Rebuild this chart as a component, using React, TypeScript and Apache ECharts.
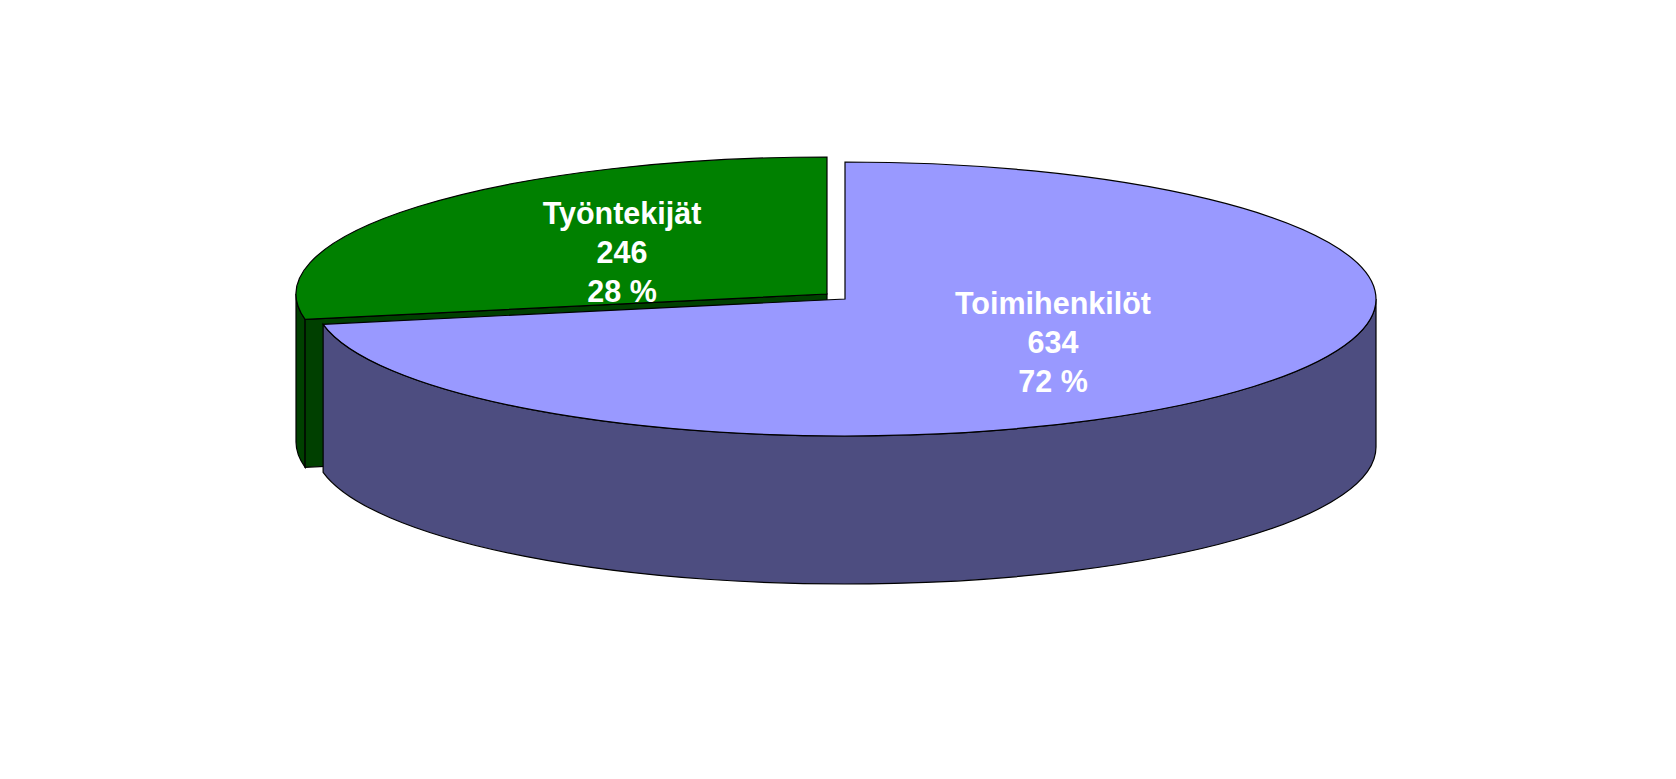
import React, { useEffect, useRef } from "react";
import * as echarts from "echarts";

// Drawing order: the back slice first, so the front slice covers it.
const categories = ["Työntekijät", "Toimihenkilöt"];
const values = [246, 634];
const topColors = ["#008000", "#9999FF"];
const sideColors = ["#004000", "#4D4D80"];

const RX = 531;
const RY = 137;
const DEPTH = 148;
const CENTERS = [
  [827, 294],
  [845, 299],
];
const LABEL_POS = [
  [622, 252],
  [1053, 342],
];
const LABEL_FONT = 30.5;
const LABEL_LINE = 39;

const total = values.reduce((a, b) => a + b, 0);
const pt = (c: number[], deg: number, dy = 0) => {
  const r = (deg * Math.PI) / 180;
  return [c[0] + RX * Math.sin(r), c[1] - RY * Math.cos(r) + dy];
};
const arcTo = (p: number[], sweepCw: boolean, large: boolean) =>
  `A${RX} ${RY} 0 ${large ? 1 : 0} ${sweepCw ? 1 : 0} ${p[0]} ${p[1]}`;

// The slices run clockwise from 12 o'clock; the first one in the list ends there.
const sliceAngles = (index: number) => {
  const share = (v: number) => (v / total) * 360;
  if (index === 0) return [360 - share(values[0]), 360];
  return [0, share(values[1])];
};

const renderItem = (params: any, api: any) => {
  const i = params.dataIndex;
  const value = api.value(0);
  const c = CENTERS[i];
  const [a0, a1] = sliceAngles(i);
  const stroke = { stroke: "#000000", lineWidth: 1.2 };
  const children: any[] = [];

  // Outer wall: the part of the slice on the front half of the ellipse.
  const from = Math.max(a0, 90);
  const to = Math.min(a1, 270);
  if (to > from) {
    const p0 = pt(c, from);
    const p1 = pt(c, to);
    const p2 = pt(c, to, DEPTH);
    const p3 = pt(c, from, DEPTH);
    const d =
      `M${p0[0]} ${p0[1]}` +
      arcTo(p1, true, to - from > 180) +
      `L${p2[0]} ${p2[1]}` +
      arcTo(p3, false, to - from > 180) +
      "Z";
    children.push({
      type: "path",
      shape: { pathData: d },
      style: { fill: sideColors[i], ...stroke },
    });
  }

  // Cut face that looks towards the viewer.
  if (a0 > 180 && a0 < 360) {
    const p = pt(c, a0);
    const d = `M${c[0]} ${c[1]}L${p[0]} ${p[1]}L${p[0]} ${p[1] + DEPTH}L${c[0]} ${c[1] + DEPTH}Z`;
    children.push({
      type: "path",
      shape: { pathData: d },
      style: { fill: sideColors[i], ...stroke },
    });
  }

  // Top face.
  const s = pt(c, a0);
  const e = pt(c, a1);
  const topPath =
    `M${c[0]} ${c[1]}L${s[0]} ${s[1]}` + arcTo(e, true, a1 - a0 > 180) + "Z";
  children.push({
    type: "path",
    shape: { pathData: topPath },
    style: { fill: topColors[i], ...stroke },
  });

  children.push({
    type: "text",
    x: LABEL_POS[i][0],
    y: LABEL_POS[i][1],
    style: {
      text: `${categories[i]}\n${value}\n${Math.round((value / total) * 100)} %`,
      fill: "#ffffff",
      font: `bold ${LABEL_FONT}px "Liberation Sans", Arial, sans-serif`,
      lineHeight: LABEL_LINE,
      align: "center",
      verticalAlign: "middle",
    },
  });

  return { type: "group", children };
};

export default function App() {
  const ref = useRef<HTMLDivElement>(null);
  useEffect(() => {
    document.body.style.margin = "0";
    const chart = echarts.init(ref.current!, undefined, { renderer: "svg" });
    chart.setOption({
      animation: false,
      backgroundColor: "#ffffff",
      series: [
        {
          type: "custom",
          coordinateSystem: "none",
          silent: true,
          renderItem,
          data: values.map((v, i) => ({ name: categories[i], value: [v] })),
        },
      ],
    });
    return () => chart.dispose();
  }, []);
  return <div ref={ref} style={{ width: 1676, height: 779 }} />;
}
